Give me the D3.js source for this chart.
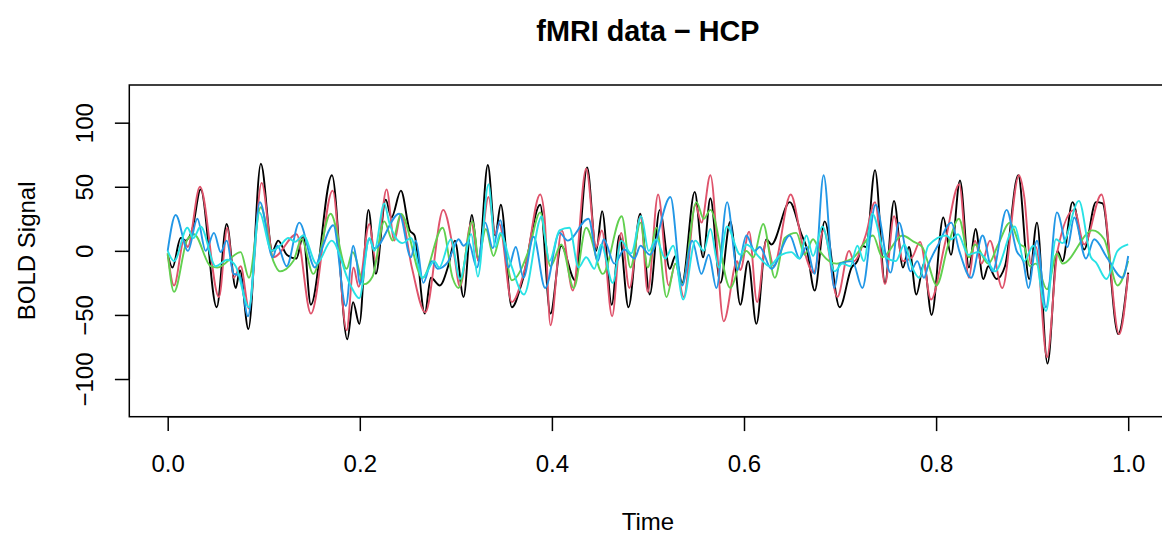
<!DOCTYPE html>
<html>
<head>
<meta charset="utf-8">
<script src="https://cdn.jsdelivr.net/npm/d3@7"></script>
<style>
  body { margin: 0; background: #fff; }
  svg { display: block; font-family: "Liberation Sans", Arial, Helvetica, sans-serif; }
</style>
</head>
<body>
<svg id="chart" width="1162" height="539" viewBox="0 0 1162 539"></svg>
<script>
// BOLD signal for five regions, [time, value]
const series1 = [[0,-3],[0.005,-13],[0.0135,10],[0.0187,8],[0.0257,17],[0.0343,48],[0.051,-44],[0.0614,21],[0.0708,-29],[0.0752,-15],[0.084,-61],[0.097,68],[0.109,0],[0.115,8],[0.124,-3],[0.134,-6],[0.141,12],[0.149,-42],[0.171,59],[0.187,-69],[0.193,-40],[0.1995,-57],[0.209,32],[0.2167,-18],[0.227,40],[0.233,26],[0.2428,47],[0.252,16],[0.257,12],[0.2677,-49],[0.274,-21],[0.2833,-27],[0.292,-12],[0.299,8],[0.308,-36],[0.3167,28],[0.3236,-8],[0.3333,67],[0.341,12],[0.3468,36],[0.3583,-44],[0.3687,-25],[0.3878,36],[0.3985,-49],[0.4097,4],[0.4242,-23],[0.4367,65],[0.4461,0],[0.4523,31],[0.4623,-42],[0.4703,12],[0.4797,-44],[0.4919,29],[0.5019,-34],[0.5123,32],[0.5227,-14],[0.5286,-4],[0.5356,-25],[0.5487,46],[0.5574,-5],[0.565,41],[0.5754,-25],[0.5858,23],[0.5962,-42],[0.6043,-8],[0.6129,-57],[0.6233,9],[0.6285,5],[0.6476,38],[0.6597,13],[0.665,3],[0.6736,-31],[0.684,23],[0.6996,-44],[0.712,-13],[0.718,-8],[0.7232,4],[0.727,3],[0.7364,63],[0.7468,-25],[0.7562,39],[0.7655,-13],[0.7718,3],[0.7794,-34],[0.7874,-10],[0.7953,-50],[0.8075,26],[0.8155,-3],[0.8249,55],[0.8342,-13],[0.8411,17],[0.8491,-22],[0.8543,-12],[0.863,-22],[0.8717,-12],[0.8855,59],[0.897,-22],[0.905,22],[0.916,-88],[0.9264,0],[0.9316,-8],[0.942,38],[0.9542,1],[0.9664,38],[0.9733,37],[0.9896,-65],[1,-17]]
const series2 = [[0,-2],[0.0066,-27],[0.017,8],[0.0208,3],[0.0336,50],[0.0534,-36],[0.0621,18],[0.0687,-21],[0.076,-12],[0.0846,-45],[0.0978,53],[0.11,-5],[0.1342,13],[0.1491,-49],[0.1717,47],[0.1863,-62],[0.1935,-13],[0.1988,-28],[0.2099,21],[0.2167,-8],[0.2279,48],[0.2359,8],[0.2428,28],[0.2542,-13],[0.2682,-48],[0.2869,32],[0.2976,0],[0.3043,-28],[0.316,22],[0.3236,-8],[0.334,42],[0.341,13],[0.3452,21],[0.3583,-40],[0.3722,-13],[0.3878,44],[0.3923,27],[0.3985,-58],[0.4103,16],[0.4217,-31],[0.4357,64],[0.4461,3],[0.452,16],[0.4627,-51],[0.4721,14],[0.4807,-29],[0.4922,27],[0.4998,-32],[0.5106,44],[0.5216,-27],[0.5286,-10],[0.5373,-36],[0.5494,36],[0.5557,22],[0.565,59],[0.5789,-55],[0.5928,-8],[0.5962,-15],[0.6053,15],[0.6136,-40],[0.6233,8],[0.6309,-12],[0.6486,44],[0.6615,3],[0.6725,-17],[0.6829,16],[0.6972,-36],[0.7094,0],[0.7146,-8],[0.7266,12],[0.7364,38],[0.7468,-26],[0.7562,27],[0.7655,-8],[0.775,-5],[0.7833,7],[0.7947,-38],[0.809,5],[0.8241,52],[0.8342,-21],[0.8405,8],[0.8473,-10],[0.8561,8],[0.8689,-29],[0.8863,59],[0.8918,42],[0.8988,-10],[0.904,3],[0.9154,-83],[0.9264,0],[0.9438,32],[0.9542,5],[0.9722,44],[0.9906,-65],[1,-18]]
const series3 = [[0,-2],[0.0066,-32],[0.0205,9],[0.0274,13],[0.0447,-12],[0.0517,-13],[0.076,-1],[0.0846,-21],[0.0968,34],[0.11,-8],[0.1168,-16],[0.1308,-8],[0.1394,9],[0.1516,-18],[0.1696,29],[0.1863,-14],[0.1925,-1],[0.2047,-26],[0.2133,-20],[0.2255,23],[0.2342,8],[0.2428,29],[0.2653,-21],[0.2862,18],[0.2966,-21],[0.3028,-29],[0.3174,23],[0.3236,-5],[0.3312,17],[0.3392,-4],[0.3472,13],[0.3583,-23],[0.3757,0],[0.3878,30],[0.3985,-12],[0.4097,5],[0.4228,-29],[0.4357,18],[0.453,-18],[0.4727,27],[0.4818,-13],[0.4922,22],[0.4998,-13],[0.5088,18],[0.5193,-36],[0.5286,-10],[0.5356,-26],[0.5505,38],[0.5581,25],[0.565,32],[0.5858,-29],[0.5962,-8],[0.6025,0],[0.6095,-5],[0.62,21],[0.6321,-21],[0.6424,10],[0.6545,14],[0.6632,-3],[0.6719,9],[0.6788,0],[0.6962,-10],[0.7024,-9],[0.7128,-6],[0.7343,12],[0.744,-5],[0.7648,12],[0.777,7],[0.7856,3],[0.7919,-10],[0.8005,-27],[0.8127,5],[0.8238,25],[0.8342,-5],[0.8405,5],[0.8543,-10],[0.8647,5],[0.8769,22],[0.8873,5],[0.8918,3],[0.8977,-12],[0.904,-10],[0.9154,-30],[0.9258,-2],[0.9316,-10],[0.9629,16],[0.975,9],[0.9889,-27],[1,-8]]
const series4 = [[0,0],[0.0083,28],[0.0211,0],[0.0309,25],[0.0395,0],[0.0482,14],[0.0552,-1],[0.0614,8],[0.0687,-18],[0.0749,-19],[0.0836,-51],[0.096,38],[0.1093,-5],[0.1142,4],[0.1238,-12],[0.137,22],[0.1533,-13],[0.1602,1],[0.1724,20],[0.1855,-43],[0.1932,4],[0.1967,-8],[0.2001,-26],[0.2099,9],[0.2151,2],[0.2411,29],[0.2532,-5],[0.2584,8],[0.2661,-25],[0.275,-8],[0.281,-14],[0.2914,-9],[0.2966,0],[0.3028,9],[0.308,4],[0.3132,7],[0.3219,-13],[0.3306,22],[0.3385,2],[0.3462,24],[0.3548,-13],[0.3624,3],[0.3704,-21],[0.3809,11],[0.393,-29],[0.4079,14],[0.4165,8],[0.4381,25],[0.4478,-8],[0.454,9],[0.4651,-10],[0.4755,1],[0.486,-6],[0.4922,4],[0.5019,-3],[0.5234,42],[0.5356,-27],[0.546,8],[0.5557,-18],[0.5633,-3],[0.5713,-29],[0.5824,38],[0.5931,-15],[0.6025,12],[0.6112,0],[0.6164,3],[0.6285,-14],[0.6476,12],[0.658,-6],[0.665,3],[0.6736,-18],[0.6829,59],[0.6941,-29],[0.6996,-10],[0.7128,-8],[0.7232,-29],[0.737,36],[0.7526,-17],[0.7614,22],[0.7735,-16],[0.7804,-8],[0.7874,-21],[0.7919,-11],[0.8023,5],[0.8158,22],[0.8241,0],[0.8364,-21],[0.8484,12],[0.8588,-16],[0.8734,32],[0.8838,0],[0.8907,-8],[0.896,-29],[0.905,8],[0.9144,-44],[0.9258,30],[0.9368,3],[0.9438,26],[0.956,-6],[0.9646,9],[0.9785,-6],[0.9941,-21],[1,-4]]
const series5 = [[0,0],[0.0066,-8],[0.0205,18],[0.0267,10],[0.0343,19],[0.0499,-12],[0.0621,-7],[0.0708,-12],[0.0846,-44],[0.0954,30],[0.1082,0],[0.1168,4],[0.1256,10],[0.1325,7],[0.1412,12],[0.155,-10],[0.1707,8],[0.1897,-26],[0.1995,-37],[0.2099,10],[0.2151,0],[0.2255,37],[0.2307,22],[0.2445,6],[0.2532,10],[0.2653,-21],[0.2775,-8],[0.2827,-13],[0.2948,9],[0.3043,-22],[0.316,13],[0.3229,-20],[0.334,52],[0.341,3],[0.3462,14],[0.3571,-10],[0.3709,-34],[0.3895,27],[0.3923,13],[0.3975,-8],[0.4079,16],[0.4183,18],[0.4277,-13],[0.4357,-5],[0.4443,-14],[0.4513,5],[0.4634,-25],[0.4721,8],[0.4825,-2],[0.4929,27],[0.5008,0],[0.5088,9],[0.518,-6],[0.5262,4],[0.5367,-38],[0.5494,8],[0.5581,0],[0.565,17],[0.5737,-13],[0.5823,19],[0.5962,-3],[0.6025,5],[0.616,-5],[0.6264,-12],[0.6368,-4],[0.6493,-1],[0.6576,-6],[0.665,12],[0.6719,-4],[0.6816,19],[0.6944,-16],[0.7024,-10],[0.7107,-12],[0.718,4],[0.7248,-8],[0.7336,29],[0.7477,-5],[0.7581,-8],[0.7669,5],[0.7752,-13],[0.7825,-21],[0.7919,4],[0.8106,12],[0.8158,9],[0.8228,13],[0.8335,-3],[0.8439,-1],[0.8543,-9],[0.8613,-16],[0.882,19],[0.8918,-8],[0.9011,4],[0.9144,-47],[0.9248,9],[0.9316,6],[0.9487,39],[0.9612,-5],[0.9664,-9],[0.9774,-22],[0.9889,0],[1,5]]

const seriesList = [series1, series2, series3, series4, series5]
const colors = ["#000000", "#DF536B", "#61D04F", "#2297E6", "#28E2E5"]
const xTicks = [0, 0.2, 0.4, 0.6, 0.8, 1.0]
const yTicks = [-100, -50, 0, 50, 100]

let svg = d3.select("#chart")

// plot region, R style 4% padding around the data range
let plotLeft = 129.3, plotTop = 85, plotBottom = 416.7
let x = d3.scaleLinear().domain([0, 1]).range([167.7, 1128.2])
let y = d3.scaleLinear().domain([-129.4, 129.4]).range([plotBottom, plotTop])
let plotRight = x(1.04)

svg.append("clipPath").attr("id", "clip")
    .append("rect")
    .attr("x", plotLeft).attr("y", plotTop)
    .attr("width", plotRight - plotLeft).attr("height", plotBottom - plotTop)

let line = d3.line()
    .x(function (d) { return x(d[0]) })
    .y(function (d) { return y(d[1]) })
    .curve(d3.curveMonotoneX)

let lines = svg.append("g").attr("clip-path", "url(#clip)")
seriesList.forEach(function (s, i) {
    lines.append("path")
        .datum(s)
        .attr("d", line)
        .attr("fill", "none")
        .attr("stroke", colors[i])
        .attr("stroke-width", 1.9)
        .attr("stroke-linejoin", "round")
})

// box
svg.append("rect")
    .attr("x", plotLeft).attr("y", plotTop)
    .attr("width", plotRight - plotLeft).attr("height", plotBottom - plotTop)
    .attr("fill", "none").attr("stroke", "#000").attr("stroke-width", 1.5)

// x axis
let gx = svg.append("g")
    .attr("transform", `translate(0,${plotBottom})`)
    .call(d3.axisBottom(x).tickValues(xTicks).tickFormat(d3.format(".1f"))
        .tickSize(14.4).tickSizeOuter(0).tickPadding(0))
gx.select(".domain").attr("d", `M${x(0)},0H${x(1)}`).attr("stroke-width", 1.5)
gx.selectAll(".tick line").attr("stroke-width", 1.5)
gx.selectAll(".tick text")
    .attr("y", 472 - plotBottom).attr("dy", 0)
    .attr("font-size", 24).attr("fill", "#000")
    .attr("font-family", "Liberation Sans, Arial, sans-serif")

// y axis
let gy = svg.append("g")
    .attr("transform", `translate(${plotLeft},0)`)
    .call(d3.axisLeft(y).tickValues(yTicks).tickFormat(d3.format("d"))
        .tickSize(14.4).tickSizeOuter(0))
gy.select(".domain").attr("d", `M0,${y(-100)}V${y(100)}`).attr("stroke-width", 1.5)
gy.selectAll(".tick line").attr("stroke-width", 1.5)
gy.selectAll(".tick text")
    .attr("transform", "rotate(-90)")
    .attr("x", 0).attr("y", 93 - plotLeft).attr("dy", 0)
    .attr("text-anchor", "middle")
    .attr("font-size", 24).attr("fill", "#000")
    .attr("font-family", "Liberation Sans, Arial, sans-serif")
    .text(function (d) { return d < 0 ? "\u2212" + Math.abs(d) : d })

// titles
svg.append("text")
    .attr("x", (plotLeft + plotRight) / 2).attr("y", 41)
    .attr("text-anchor", "middle")
    .attr("font-size", 28.8).attr("font-weight", "bold")
    .text("fMRI data \u2212 HCP")

svg.append("text")
    .attr("x", (plotLeft + plotRight) / 2).attr("y", 530)
    .attr("text-anchor", "middle")
    .attr("font-size", 24)
    .text("Time")

svg.append("text")
    .attr("transform", `translate(35,${(plotTop + plotBottom) / 2}) rotate(-90)`)
    .attr("text-anchor", "middle")
    .attr("font-size", 24)
    .text("BOLD Signal")
</script>
</body>
</html>
